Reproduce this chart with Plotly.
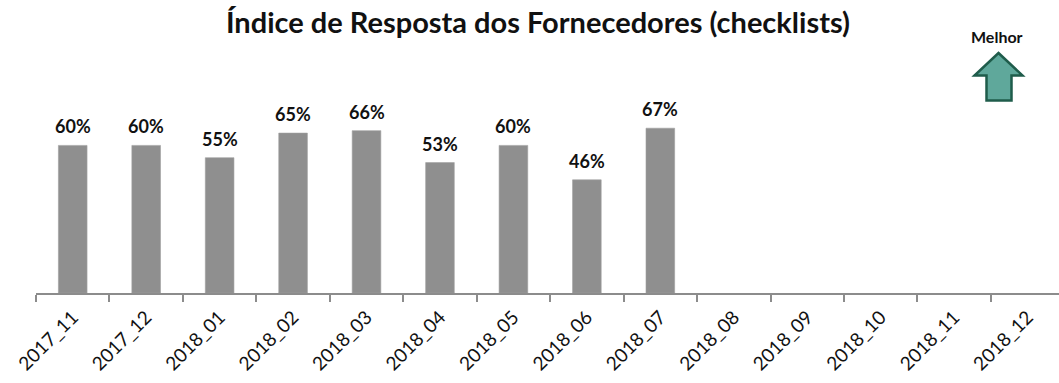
import plotly.graph_objects as go

# Monthly supplier response index (checklists), in percent
months = ["2017_11", "2017_12", "2018_01", "2018_02", "2018_03", "2018_04", "2018_05",
          "2018_06", "2018_07", "2018_08", "2018_09", "2018_10", "2018_11", "2018_12"]
response_pct = [60, 60, 55, 65, 66, 53, 60, 46, 67]

title_text = "Índice de Resposta dos Fornecedores (checklists)"
better_text = "Melhor"

W, H = 1059, 383
ML, MR, MT, MB = 36, 0, 40, 90
plot_w = W - ML - MR
plot_h = H - MT - MB
cat_px = 73.45          # pixel width of one category slot
pct_px = 2.46           # pixels per percentage point

FONT = "Lato"
BAR = "#8f8f8f"
AXIS = "#8c8c8c"


def px_to_paper(px, py):
    return (px - ML) / plot_w, (H - MB - py) / plot_h


fig = go.Figure()
fig.add_trace(go.Bar(
    x=months[:len(response_pct)],
    y=response_pct,
    width=0.39,
    marker=dict(color=BAR, line=dict(color="#a0a0a0", width=0.6)),
    hoverinfo="x+y",
))

# value labels above each bar
for m, v in zip(months, response_pct):
    fig.add_annotation(x=m, y=v, text=f"<b>{v}%</b>", showarrow=False,
                       xanchor="center", yanchor="bottom", yshift=6,
                       font=dict(family=FONT, size=18, color="#111111"))

# "Melhor" indicator with an upward arrow
fig.add_annotation(xref="paper", yref="paper",
                   x=px_to_paper(997, 0)[0], y=px_to_paper(0, 36)[1],
                   xanchor="center", yanchor="middle",
                   text=f"<b>{better_text}</b>", showarrow=False,
                   font=dict(family=FONT, size=16, color="#111111"))
arrow_pts = [(998.5, 53), (1022.5, 75.5), (1011.5, 75.5), (1011.5, 100.5),
             (986.5, 100.5), (986.5, 75.5), (974.5, 75.5)]
path = "M " + " L ".join(f"{px_to_paper(x, y)[0]:.5f},{px_to_paper(x, y)[1]:.5f}"
                         for x, y in arrow_pts) + " Z"
fig.add_shape(type="path", xref="paper", yref="paper", path=path,
              fillcolor="#5fa89b", line=dict(color="#1f5c4b", width=2.5))

fig.update_layout(
    width=W, height=H,
    margin=dict(l=ML, r=MR, t=MT, b=MB, pad=0, autoexpand=False),
    paper_bgcolor="white", plot_bgcolor="white",
    showlegend=False,
    title=dict(text=f"<b>{title_text}</b>", xref="container", yref="container",
               x=538 / W, y=1 - 23 / H, xanchor="center", yanchor="middle",
               font=dict(family=FONT, size=29, color="#111111")),
    xaxis=dict(
        type="category", categoryorder="array", categoryarray=months,
        tickmode="array", tickvals=months, ticktext=months,
        range=[-0.5, -0.5 + plot_w / cat_px], automargin=False,
        tickson="boundaries", ticks="outside", ticklen=7, tickwidth=1.5,
        tickcolor=AXIS, showline=True, linecolor=AXIS, linewidth=1.5,
        showgrid=False, zeroline=False, tickangle=-45, ticklabelstandoff=4,
        tickfont=dict(family=FONT, size=19, color="#111111"),
    ),
    yaxis=dict(range=[0, plot_h / pct_px], visible=False, showgrid=False,
               zeroline=False, fixedrange=True, automargin=False),
    bargap=0.61,
)

fig.write_html("out.html")
